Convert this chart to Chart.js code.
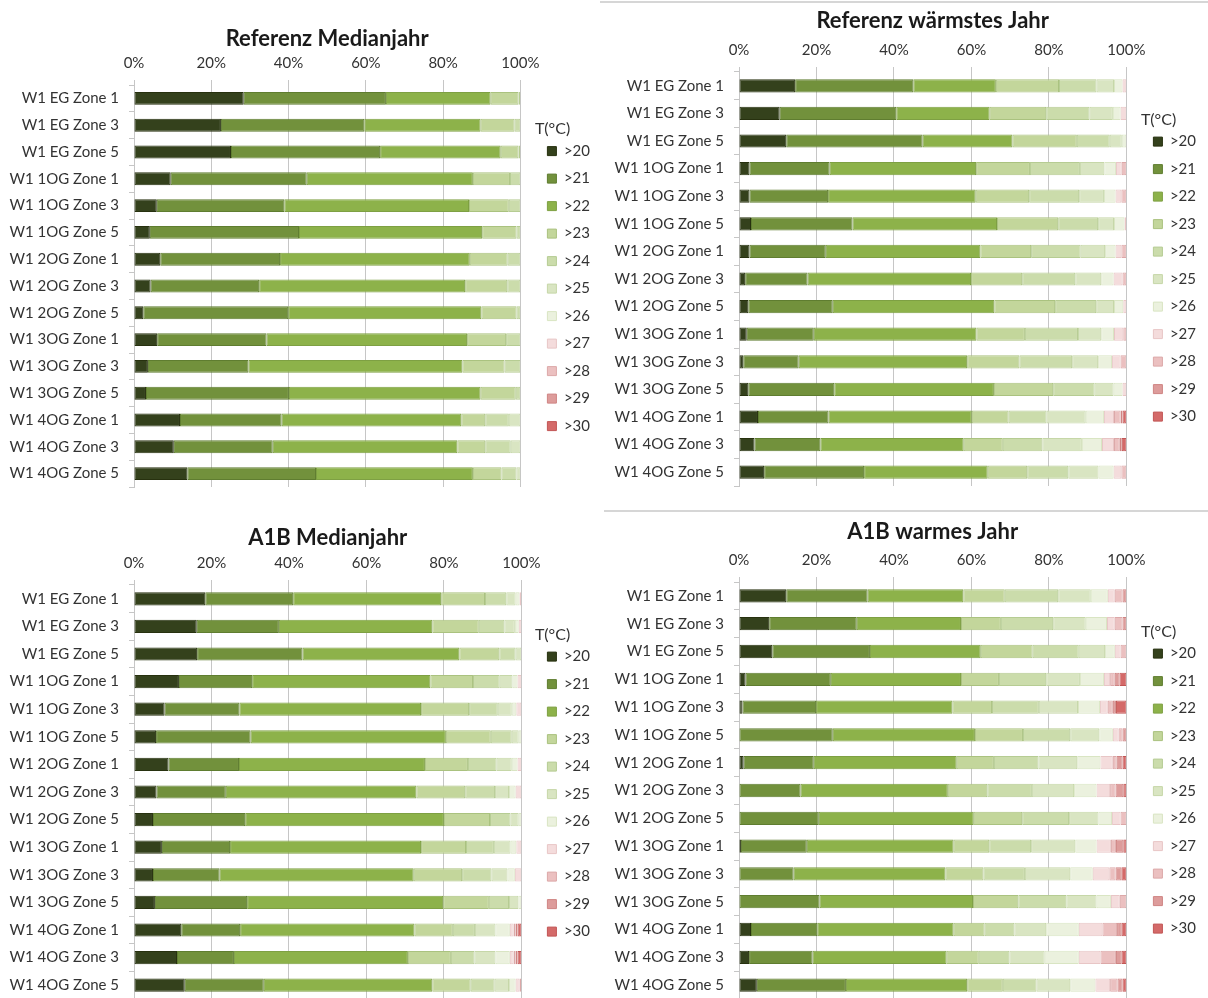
<!DOCTYPE html>
<html>
<head>
<meta charset="utf-8">
<script src="https://cdn.jsdelivr.net/npm/chart.js@4/dist/chart.umd.min.js"></script>
<style>
  body { margin: 0; width: 1208px; height: 998px; background: #fff; position: relative; overflow: hidden; }
  canvas { position: absolute; }
  .rule { position: absolute; height: 0; border-top: 2px solid #d6d6d6; }
</style>
</head>
<body>
<div class="rule" style="left:600px; top:1px; width:608px"></div>
<div class="rule" style="left:604px; top:510px; width:604px"></div>
<canvas id="refMedianChart" width="600" height="480" style="left:0px; top:26px"></canvas>
<canvas id="refWarmChart" width="608" height="497" style="left:600px; top:8px"></canvas>
<canvas id="a1bMedianChart" width="600" height="493" style="left:0px; top:525px"></canvas>
<canvas id="a1bWarmChart" width="608" height="499" style="left:600px; top:519px"></canvas>
<script>
// categories (zones) and temperature classes
const zones = [
  "W1 EG Zone 1", "W1 EG Zone 3", "W1 EG Zone 5",
  "W1 1OG Zone 1", "W1 1OG Zone 3", "W1 1OG Zone 5",
  "W1 2OG Zone 1", "W1 2OG Zone 3", "W1 2OG Zone 5",
  "W1 3OG Zone 1", "W1 3OG Zone 3", "W1 3OG Zone 5",
  "W1 4OG Zone 1", "W1 4OG Zone 3", "W1 4OG Zone 5"
];
const tempClasses = [">20", ">21", ">22", ">23", ">24", ">25", ">26", ">27", ">28", ">29", ">30"];
const xTicks = [0, 20, 40, 60, 80, 100];

// share of hours per class (%), one row per zone, columns follow tempClasses
const refMedian = [
  [28.4, 36.8, 27.1, 7.2, 0.5],
  [22.5, 37.1, 30.1, 8.8, 1.5],
  [25.1, 38.6, 31.2, 4.6, 0.5],
  [9.5, 35.2, 43.0, 9.6, 2.7],
  [5.9, 33.0, 47.8, 10.3, 3.0],
  [4.1, 38.6, 47.4, 8.9, 1.0],
  [6.8, 31.0, 49.1, 9.8, 3.3],
  [4.3, 28.1, 53.3, 10.9, 3.4],
  [2.4, 37.5, 50.0, 9.1, 1.0],
  [6.0, 28.3, 51.9, 10.1, 3.7],
  [3.6, 26.0, 55.4, 10.9, 4.1],
  [3.1, 37.0, 49.6, 9.1, 1.2],
  [11.9, 26.3, 46.5, 6.2, 6.1, 3.0],
  [10.3, 25.6, 47.8, 7.2, 6.6, 2.5],
  [13.8, 33.3, 40.6, 7.4, 3.9, 1.0]
];
const refWarm = [
  [14.5, 30.5, 21.3, 16.3, 9.7, 4.5, 2.2, 1.0],
  [10.5, 30.1, 24.1, 14.6, 11.2, 6.0, 2.0, 1.5],
  [12.2, 35.2, 23.2, 16.6, 8.5, 3.1, 1.2],
  [2.7, 20.7, 37.8, 13.9, 12.9, 6.3, 3.0, 1.5, 1.2],
  [2.7, 20.3, 38.1, 13.8, 12.9, 6.4, 3.0, 1.5, 1.3],
  [3.1, 26.2, 37.3, 15.8, 10.3, 4.1, 2.7, 0.5],
  [2.7, 19.7, 39.9, 13.1, 12.8, 6.3, 2.7, 1.5, 1.3],
  [1.6, 16.1, 42.2, 13.2, 13.7, 6.7, 3.2, 2.3, 1.0],
  [2.4, 21.8, 41.7, 15.7, 10.6, 4.6, 2.4, 0.8],
  [2.0, 17.3, 42.0, 12.5, 13.7, 6.0, 3.3, 2.4, 0.8],
  [1.1, 14.3, 43.5, 13.5, 13.6, 6.7, 3.6, 2.2, 1.5],
  [2.4, 22.2, 41.2, 15.3, 10.7, 4.9, 2.3, 1.0],
  [4.9, 18.2, 37.0, 9.5, 9.8, 10.1, 4.7, 2.6, 1.7, 0.5, 1.0],
  [4.0, 17.0, 37.0, 10.1, 10.2, 10.2, 5.2, 3.1, 1.5, 0.5, 1.2],
  [6.5, 25.8, 31.9, 10.2, 10.6, 7.8, 3.9, 2.0, 1.3]
];
const a1bMedian = [
  [18.4, 22.7, 38.2, 11.3, 5.5, 2.4, 1.0, 0.5],
  [16.2, 21.2, 39.6, 12.0, 6.6, 2.7, 1.0, 0.7],
  [16.3, 27.2, 40.5, 10.3, 4.2, 1.5],
  [11.6, 18.9, 46.0, 11.0, 6.9, 3.3, 1.3, 1.0],
  [7.9, 19.3, 46.9, 12.4, 7.4, 3.6, 1.2, 1.3],
  [5.7, 24.4, 50.4, 11.6, 5.4, 1.8, 0.7],
  [8.9, 18.2, 48.0, 11.1, 7.4, 3.9, 1.5, 1.0],
  [5.8, 17.9, 49.2, 12.6, 7.7, 3.6, 1.7, 1.5],
  [4.9, 23.8, 51.3, 11.9, 5.3, 2.1, 0.7],
  [7.2, 17.6, 49.3, 11.6, 7.2, 4.3, 1.5, 1.3],
  [4.9, 17.2, 50.1, 12.5, 7.6, 4.1, 1.9, 1.7],
  [5.4, 23.8, 50.6, 11.8, 5.2, 2.4, 0.8],
  [12.2, 15.2, 45.0, 9.9, 5.7, 5.3, 3.7, 1.0, 0.5, 0.5, 1.0],
  [11.1, 14.7, 44.9, 11.1, 6.1, 5.4, 3.7, 1.0, 0.5, 0.5, 1.0],
  [13.1, 20.4, 43.5, 9.9, 6.2, 3.7, 1.7, 1.0, 0.5]
];
const a1bWarm = [
  [12.2, 21.0, 24.7, 10.7, 13.8, 8.4, 4.4, 1.8, 2.0, 1.0],
  [7.8, 22.6, 26.9, 10.3, 13.5, 8.4, 5.5, 2.0, 2.0, 1.0],
  [8.6, 25.2, 28.6, 13.4, 11.9, 6.8, 2.5, 1.5, 1.5],
  [1.7, 22.0, 33.6, 9.8, 12.2, 8.7, 6.2, 1.6, 1.2, 1.2, 1.8],
  [0.9, 19.0, 35.2, 10.2, 12.1, 10.1, 5.7, 2.0, 1.3, 0.8, 2.7],
  [0, 24.2, 36.7, 12.4, 12.2, 7.5, 3.5, 1.5, 1.0, 1.0],
  [1.2, 18.1, 36.9, 9.6, 11.5, 10.0, 6.0, 3.2, 1.0, 1.5, 1.0],
  [0, 15.9, 38.0, 10.2, 11.5, 10.9, 5.8, 3.5, 1.4, 2.0, 0.8],
  [0, 20.6, 40.0, 12.5, 12.1, 7.6, 3.5, 2.2, 1.5],
  [0.5, 17.0, 37.9, 9.2, 10.8, 11.4, 5.5, 3.7, 1.3, 1.9, 0.8],
  [0, 14.1, 39.2, 9.8, 10.7, 11.7, 5.8, 4.3, 1.6, 1.5, 1.3],
  [0, 20.8, 39.6, 11.7, 12.4, 7.8, 3.7, 2.3, 1.7],
  [3.1, 17.1, 35.2, 8.0, 7.7, 8.2, 8.4, 6.1, 3.8, 1.1, 1.3],
  [2.6, 16.4, 34.6, 8.3, 7.9, 9.1, 8.8, 5.6, 4.0, 1.4, 1.3],
  [4.6, 23.0, 31.3, 9.2, 8.7, 8.7, 6.5, 3.8, 1.9, 1.3, 1.0]
];

// colours per class: fill and slightly darker edge
const fillColors = ["#34411c", "#72913c", "#8db24a", "#c3d69b", "#cbdcab", "#d9e5c2", "#ebf1de",
                    "#f4dcdc", "#ebc0c0", "#dd9c9b", "#d46a69"];
const edgeColors = ["#27310f", "#5f7d30", "#7ea043", "#aac27f", "#b6cc93", "#c6d7a8", "#d9e5c3",
                    "#e8c6c6", "#dca8a8", "#cf8483", "#c25655"];

const fontFamily = "Lato, 'Open Sans', sans-serif";
const textColor = "#333333";
const gridColor = "#c6c6c6";

function makeChart(canvasId, title, rows, box) {
  const datasets = tempClasses.map((cls, i) => ({
    label: cls,
    data: rows.map(r => (r[i] > 0 ? r[i] : null)),
    backgroundColor: fillColors[i],
    borderColor: edgeColors[i],
    borderWidth: 1,
    borderSkipped: false,
    barPercentage: 0.48,
    categoryPercentage: 1,
    xAxisID: "x",
    yAxisID: "y"
  }));

  return new Chart(document.getElementById(canvasId), {
    type: "bar",
    data: { labels: zones, datasets: datasets },
    options: {
      indexAxis: "y",
      responsive: false,
      animation: false,
      layout: { padding: { right: box.padRight } },
      plugins: {
        title: {
          display: true,
          fullSize: false,
          text: title,
          color: "#1a1a1a",
          font: { family: fontFamily, size: 22, weight: "bold" },
          padding: { top: 0, bottom: box.titleGap }
        },
        legend: {
          position: "right",
          title: {
            display: true,
            text: "T(°C)",
            color: textColor,
            position: "start",
            font: { family: fontFamily, size: 16 },
            padding: { top: 35, bottom: -9 }
          },
          labels: {
            boxWidth: 9,
            boxHeight: 9,
            padding: 12.5,
            color: textColor,
            font: { family: fontFamily, size: 15 }
          }
        },
        tooltip: { enabled: false }
      },
      scales: {
        x: {
          position: "top",
          stacked: true,
          min: 0,
          max: 100,
          afterBuildTicks: s => { s.ticks = xTicks.map(v => ({ value: v })); },
          ticks: {
            callback: v => v + "%",
            color: textColor,
            padding: 8,
            font: { family: fontFamily, size: 15 }
          },
          grid: { color: gridColor, tickLength: 5 },
          border: { display: false },
          afterFit: s => { s.height = 30; }
        },
        y: {
          stacked: true,
          ticks: { color: textColor, padding: 10, font: { family: fontFamily, size: 15 } },
          grid: { drawOnChartArea: false, tickLength: 5, color: gridColor },
          border: { color: gridColor },
          afterFit: s => { s.width = box.axisWidth; }
        },
        // empty spacer between plot and legend
        gap: {
          type: "linear",
          axis: "y",
          position: "right",
          ticks: { display: false },
          grid: { display: false },
          border: { display: false },
          afterFit: s => { s.width = box.gap; }
        }
      }
    }
  });
}

makeChart("refMedianChart", "Referenz Medianjahr", refMedian, { axisWidth: 134, padRight: 0, gap: 14.5, titleGap: 2.6 });
makeChart("refWarmChart", "Referenz wärmstes Jahr", refWarm, { axisWidth: 139, padRight: 2, gap: 14.5, titleGap: 7.6 });
makeChart("a1bMedianChart", "A1B Medianjahr", a1bMedian, { axisWidth: 134, padRight: 0, gap: 13.5, titleGap: 3.6 });
makeChart("a1bWarmChart", "A1B warmes Jahr", a1bWarm, { axisWidth: 139, padRight: 2, gap: 14.5, titleGap: 6.6 });
</script>
</body>
</html>
